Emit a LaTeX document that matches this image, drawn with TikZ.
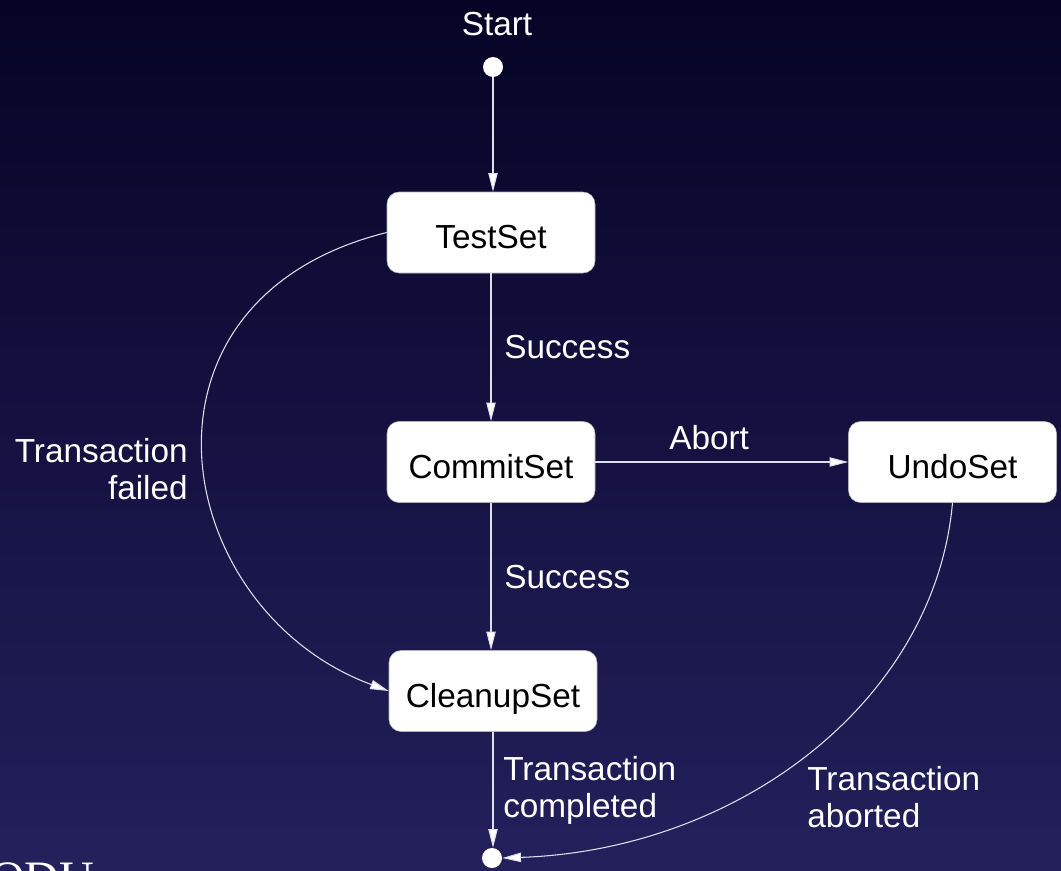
\documentclass[tikz,border=0pt]{standalone}
\usepackage{fontspec}
\setmainfont{Liberation Sans}
\newfontfamily\serifdeco{Liberation Serif}
\usetikzlibrary{arrows.meta}
\definecolor{bgtop}{RGB}{6,3,38}
\definecolor{bgbottom}{RGB}{35,32,92}
\definecolor{wire}{RGB}{222,222,236}
\tikzset{
  statebox/.style={draw=gray!60, line width=0.4pt, fill=white, rounded corners=9pt,
    minimum width=156pt, minimum height=60.75pt, inner sep=0pt,
    text height=24pt, text depth=0pt,
    font=\fontsize{25}{28}\selectfont, text=black},
  terminal/.style={circle, fill=white, draw=none, minimum size=15pt, inner sep=0pt},
  lbl/.style={text=white, font=\fontsize{25}{27.75}\selectfont, inner sep=0pt},
  flow/.style={draw=wire, line width=0.8pt, -{Triangle[length=14pt,width=7pt,fill=white]}}
}
\begin{document}
\begin{tikzpicture}[x=0.75pt,y=-0.75pt]
  % background
  \shade[top color=bgtop, bottom color=bgbottom] (0,0) rectangle (1061,871);
  \useasboundingbox (0,0) rectangle (1061,871);

  % states
  \node[terminal] (start) at (493,67) {};
  \node[statebox] (test) at (491,232.5) {TestSet};
  \node[statebox] (commit) at (491,462) {CommitSet};
  \node[statebox] (undo) at (952.5,462) {UndoSet};
  \node[statebox] (cleanup) at (493,691) {CleanupSet};
  \node[terminal] (end) at (492,858) {};

  % labels (multi-line ones are anchored at the baseline of their last line)
  \node[lbl, anchor=base] (startlbl) at (497,35) {Start};
  \node[lbl, anchor=base west] (succ1) at (504,358) {Success};
  \node[lbl, anchor=base west] (succ2) at (504,588) {Success};
  \node[lbl, anchor=base west] (abortlbl) at (669,449) {Abort};
  \node[lbl, anchor=base east, align=right] (faillbl) at (188,499) {Transaction\\failed};
  \node[lbl, anchor=base west, align=left] (donelbl) at (503,817) {Transaction\\completed};
  \node[lbl, anchor=base west, align=left] (abortedlbl) at (807,827) {Transaction\\aborted};

  % transitions
  \draw[flow] (start.south) -- (start.south |- test.north);
  \draw[flow] (test.south) -- (commit.north);
  \draw[flow] (commit.south) -- (commit.south |- cleanup.north);
  \draw[flow] (commit.east) -- (undo.west);
  \draw[flow] (cleanup.south) -- (cleanup.south |- end.north);
  \draw[flow] (test.west) .. controls (115,300) and (170,610) .. (cleanup.west);
  \draw[flow] (undo.south) .. controls (935,700) and (740,850) .. (end.east);

  % footer lettering, cut off by the lower edge
  \node[anchor=north west, inner sep=0pt, text=white, font=\serifdeco\fontsize{36}{40}\selectfont]
    (footer) at (-10,862) {ODU};
\end{tikzpicture}
\end{document}
